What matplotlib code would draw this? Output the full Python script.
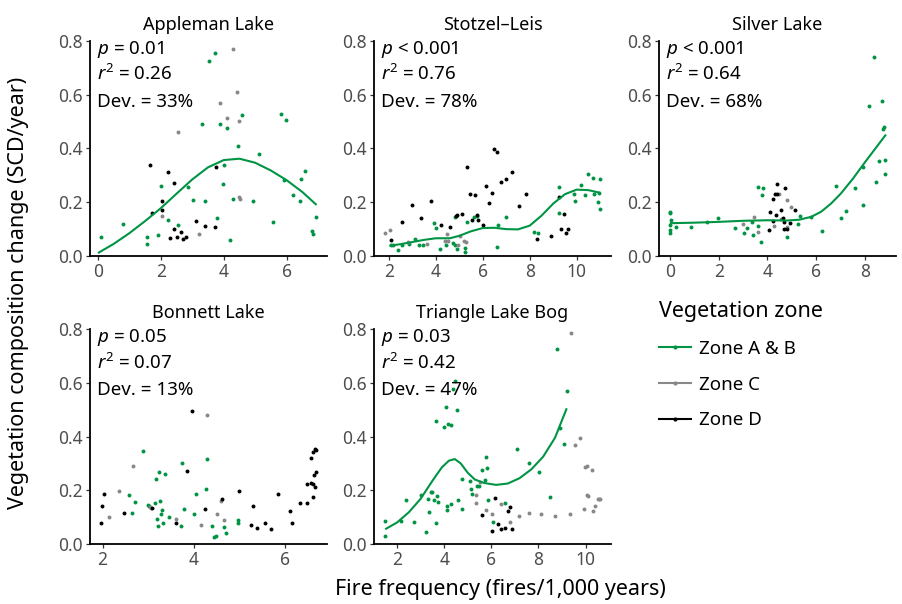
import numpy as np
import matplotlib.pyplot as plt
from matplotlib.lines import Line2D

plt.rcParams['font.family'] = ['Noto Sans', 'DejaVu Sans']
plt.rcParams['mathtext.fontset'] = 'custom'
plt.rcParams['mathtext.rm'] = 'Noto Sans'
plt.rcParams['mathtext.it'] = 'Noto Sans:italic'

GREEN = '#009444'
GREY = '#888888'
BLACK = '#000000'

# ---- Appleman Lake ----
apple_ab_x = [0.09, 0.81, 1.56, 1.57, 1.90, 2.0, 2.24, 2.55, 2.86, 3.02, 3.31, 3.40, 3.54, 3.73, 3.80, 3.87, 3.98,
              4.02, 4.11, 4.19, 4.28, 4.46, 4.58, 4.92, 5.13, 5.55, 5.82, 5.91, 5.97, 6.19, 6.41, 6.47, 6.57, 6.80,
              6.83, 6.94]
apple_ab_y = [0.072, 0.118, 0.046, 0.071, 0.079, 0.262, 0.133, 0.114, 0.257, 0.207, 0.491, 0.206, 0.725, 0.757,
              0.143, 0.491, 0.268, 0.337, 0.475, 0.058, 0.213, 0.408, 0.526, 0.205, 0.381, 0.128, 0.530, 0.284,
              0.505, 0.227, 0.205, 0.287, 0.316, 0.093, 0.083, 0.145]
apple_c_x = [2.55, 2.04, 3.20, 3.89, 4.09, 4.29, 4.41, 4.49, 4.49, 4.52]
apple_c_y = [0.461, 0.149, 0.083, 0.568, 0.514, 0.769, 0.612, 0.502, 0.220, 0.212]
apple_d_x = [1.66, 1.72, 2.05, 2.03, 2.22, 2.43, 2.42, 2.29, 2.51, 2.63, 2.69, 2.80, 3.12, 3.39, 3.72, 3.76]
apple_d_y = [0.339, 0.160, 0.205, 0.171, 0.314, 0.272, 0.100, 0.066, 0.069, 0.089, 0.065, 0.069, 0.130, 0.112,
             0.109, 0.331]
apple_fit_x = [0, 0.5, 1, 1.5, 2, 2.5, 3, 3.5, 4, 4.5, 5, 5.5, 6, 6.5, 6.95]
apple_fit_y = [0.011, 0.045, 0.085, 0.13, 0.178, 0.232, 0.285, 0.330, 0.357, 0.362, 0.347, 0.318, 0.282, 0.238, 0.19]

# ---- Stotzel-Leis ----
stotz_ab_x = [2.10, 2.20, 2.40, 2.57, 2.86, 3.11, 3.29, 3.46, 3.94, 4.0, 4.17, 4.43, 4.80, 4.74, 4.84, 4.90, 5.23,
              5.23, 5.31, 5.63, 5.77, 6.64, 6.60, 6.97, 8.19, 8.36, 9.26, 9.26, 9.89, 9.91, 10.17, 10.37, 10.50,
              10.71, 10.74, 10.90, 10.94, 11.0, 11.0]
stotz_ab_y = [0.042, 0.040, 0.021, 0.042, 0.046, 0.065, 0.042, 0.042, 0.124, 0.103, 0.025, 0.040, 0.144, 0.050,
              0.040, 0.026, 0.029, 0.014, 0.125, 0.145, 0.148, 0.117, 0.032, 0.146, 0.091, 0.087, 0.256, 0.161,
              0.230, 0.205, 0.264, 0.228, 0.305, 0.290, 0.232, 0.201, 0.234, 0.288, 0.174]
stotz_c_x = [1.83, 2.06, 2.81, 3.64, 4.46, 4.39, 4.50, 4.96, 5.03, 5.21, 5.29]
stotz_c_y = [0.086, 0.096, 0.053, 0.046, 0.081, 0.055, 0.056, 0.040, 0.076, 0.055, 0.052]
stotz_d_x = [2.11, 2.57, 3.0, 3.39, 3.79, 4.21, 4.6, 4.86, 4.91, 5.13, 5.31, 5.46, 5.56, 5.66, 5.74, 5.81, 5.99,
             6.13, 6.27, 6.39, 6.46, 6.60, 6.79, 7.0, 7.26, 7.56, 7.86, 8.33, 8.90, 9.24, 9.31, 9.46, 9.56, 9.61]
stotz_d_y = [0.058, 0.128, 0.191, 0.143, 0.205, 0.117, 0.107, 0.149, 0.154, 0.158, 0.333, 0.231, 0.133, 0.227,
             0.153, 0.135, 0.114, 0.261, 0.196, 0.233, 0.398, 0.388, 0.277, 0.288, 0.311, 0.187, 0.230, 0.062,
             0.073, 0.220, 0.100, 0.155, 0.087, 0.102]
stotz_fit_x = [2.03, 2.5, 3, 3.5, 4, 4.6, 5, 5.5, 6, 6.5, 7, 7.5, 8, 8.5, 9, 9.5, 10, 10.5, 11]
stotz_fit_y = [0.038, 0.044, 0.052, 0.060, 0.066, 0.066, 0.075, 0.092, 0.104, 0.105, 0.100, 0.099, 0.113, 0.150,
               0.195, 0.230, 0.247, 0.245, 0.235]

# ---- Silver Lake ----
silver_ab_x = [0, 0, 0.04, 0, 0, 0, 0.25, 0.87, 1.51, 1.98, 2.68, 3.05, 3.18, 3.37, 3.41, 3.60, 3.62, 3.82, 3.79,
               3.74, 4.81, 5.24, 5.33, 5.77, 6.24, 6.80, 7.01, 7.23, 7.60, 7.89, 7.89, 8.15, 8.37, 8.43, 8.56, 8.69,
               8.73, 8.78, 8.80, 8.82]
silver_ab_y = [0.165, 0.160, 0.135, 0.114, 0.096, 0.086, 0.108, 0.108, 0.127, 0.140, 0.104, 0.084, 0.105, 0.125,
               0.079, 0.112, 0.257, 0.254, 0.226, 0.052, 0.072, 0.120, 0.150, 0.145, 0.092, 0.259, 0.140, 0.166,
               0.254, 0.191, 0.331, 0.558, 0.739, 0.274, 0.355, 0.578, 0.474, 0.481, 0.356, 0.306]
silver_c_x = [2.98, 3.44, 3.63, 4.26, 4.47, 4.54, 4.78, 4.81, 4.95]
silver_c_y = [0.120, 0.145, 0.089, 0.112, 0.232, 0.136, 0.208, 0.108, 0.182]
silver_d_x = [4.07, 4.12, 4.22, 4.23, 4.30, 4.33, 4.37, 4.40, 4.54, 4.62, 4.66, 4.67, 4.70, 4.81, 4.92, 5.14]
silver_d_y = [0.096, 0.163, 0.211, 0.130, 0.230, 0.153, 0.268, 0.230, 0.172, 0.143, 0.127, 0.102, 0.252, 0.102,
              0.123, 0.170]
silver_fit_x = [0, 1, 2, 3, 4, 4.8, 5.3, 5.8, 6.2, 6.6, 7.0, 7.5, 8.0, 8.5, 8.85]
silver_fit_y = [0.122, 0.124, 0.127, 0.131, 0.133, 0.132, 0.135, 0.146, 0.165, 0.195, 0.232, 0.288, 0.35, 0.41,
                0.452]

# ---- Bonnett Lake ----
bonn_ab_x = [2.58, 2.65, 2.72, 2.88, 2.99, 3.02, 3.15, 3.18, 3.19, 3.21, 3.24, 3.26, 3.28, 3.31, 3.33, 3.37, 3.46,
             3.71, 3.74, 3.79, 4.0, 4.05, 4.26, 4.29, 4.39, 4.45, 4.48, 4.66, 4.71, 4.96, 4.96]
bonn_ab_y = [0.182, 0.114, 0.158, 0.347, 0.145, 0.141, 0.154, 0.241, 0.092, 0.068, 0.269, 0.161, 0.112, 0.127,
             0.077, 0.261, 0.099, 0.067, 0.300, 0.130, 0.113, 0.186, 0.206, 0.315, 0.067, 0.026, 0.030, 0.062,
             0.042, 0.088, 0.079]
bonn_c_x = [2.13, 2.35, 2.66, 3.03, 3.07, 3.61, 4.16, 4.29, 4.51, 4.59, 4.66]
bonn_c_y = [0.102, 0.197, 0.292, 0.136, 0.134, 0.094, 0.071, 0.480, 0.112, 0.160, 0.089]
bonn_d_x = [1.96, 1.99, 2.02, 2.46, 3.08, 3.60, 3.85, 3.96, 4.24, 4.61, 4.98, 5.25, 5.29, 5.39, 5.56, 5.70, 5.84,
            6.11, 6.16, 6.32, 6.48, 6.47, 6.56, 6.57, 6.60, 6.62, 6.62, 6.63, 6.65, 6.66, 6.68, 6.68]
bonn_d_y = [0.077, 0.143, 0.186, 0.114, 0.134, 0.079, 0.272, 0.495, 0.132, 0.166, 0.197, 0.071, 0.143, 0.061,
            0.077, 0.055, 0.186, 0.124, 0.077, 0.151, 0.151, 0.225, 0.321, 0.226, 0.341, 0.176, 0.222, 0.257,
            0.213, 0.352, 0.350, 0.269]

# ---- Triangle Lake Bog ----
tri_ab_x = [1.48, 1.49, 2.16, 2.40, 2.70, 3.02, 3.21, 3.32, 3.35, 3.42, 3.49, 3.57, 3.66, 3.66, 3.70, 3.74, 3.98,
            4.07, 4.10, 4.10, 4.18, 4.27, 4.28, 4.37, 4.47, 4.55, 4.58, 4.75, 4.77, 5.09, 5.12, 5.17, 5.39, 5.49,
            5.60, 5.72, 5.76, 5.82, 5.84, 6.07, 6.60, 7.08, 7.59, 8.03, 8.50, 8.79, 8.92, 9.09, 9.19]
tri_ab_y = [0.087, 0.030, 0.087, 0.162, 0.081, 0.181, 0.044, 0.169, 0.120, 0.193, 0.193, 0.164, 0.456, 0.077,
            0.178, 0.156, 0.437, 0.508, 0.142, 0.127, 0.445, 0.441, 0.149, 0.576, 0.608, 0.498, 0.162, 0.130,
            0.243, 0.236, 0.206, 0.186, 0.214, 0.216, 0.274, 0.237, 0.323, 0.282, 0.164, 0.083, 0.152, 0.354,
            0.300, 0.267, 0.176, 0.725, 0.430, 0.371, 0.571]
tri_c_x = [5.35, 5.35, 5.50, 5.76, 6.03, 6.40, 6.78, 7.16, 7.59, 8.11, 8.70, 9.35, 9.39, 9.56, 9.77, 9.94, 9.96,
           10.06, 10.04, 10.11, 10.26, 10.30, 10.41, 10.51, 10.57, 10.62]
tri_c_y = [0.184, 0.152, 0.229, 0.125, 0.112, 0.150, 0.081, 0.103, 0.116, 0.112, 0.105, 0.113, 0.785, 0.370,
           0.393, 0.131, 0.285, 0.290, 0.182, 0.177, 0.274, 0.121, 0.140, 0.167, 0.168, 0.166]
tri_d_x = [5.60, 6.01, 6.17, 6.30, 6.43, 6.60, 6.70, 6.79, 6.88]
tri_d_y = [0.107, 0.047, 0.171, 0.074, 0.054, 0.060, 0.122, 0.137, 0.055]
tri_fit_x = [1.5, 2.0, 2.5, 3.0, 3.5, 3.9, 4.2, 4.45, 4.7, 5.0, 5.3, 5.7, 6.2, 6.7, 7.2, 7.7, 8.2, 8.7, 9.2]
tri_fit_y = [0.055, 0.080, 0.118, 0.168, 0.235, 0.285, 0.310, 0.316, 0.300, 0.265, 0.240, 0.227, 0.220, 0.225,
             0.245, 0.278, 0.325, 0.395, 0.505]

panels = [
    ("Appleman Lake", [0, 2, 4, 6], (apple_ab_x, apple_ab_y), (apple_c_x, apple_c_y), (apple_d_x, apple_d_y),
     (apple_fit_x, apple_fit_y), ["$p$ = 0.01", "$r^2$ = 0.26", "Dev. = 33%"]),
    ("Stotzel\u2013Leis", [2, 4, 6, 8, 10], (stotz_ab_x, stotz_ab_y), (stotz_c_x, stotz_c_y), (stotz_d_x, stotz_d_y),
     (stotz_fit_x, stotz_fit_y), ["$p$ < 0.001", "$r^2$ = 0.76", "Dev. = 78%"]),
    ("Silver Lake", [0, 2, 4, 6, 8], (silver_ab_x, silver_ab_y), (silver_c_x, silver_c_y), (silver_d_x, silver_d_y),
     (silver_fit_x, silver_fit_y), ["$p$ < 0.001", "$r^2$ = 0.64", "Dev. = 68%"]),
    ("Bonnett Lake", [2, 4, 6], (bonn_ab_x, bonn_ab_y), (bonn_c_x, bonn_c_y), (bonn_d_x, bonn_d_y),
     None, ["$p$ = 0.05", "$r^2$ = 0.07", "Dev. = 13%"]),
    ("Triangle Lake Bog", [2, 4, 6, 8, 10], (tri_ab_x, tri_ab_y), (tri_c_x, tri_c_y), (tri_d_x, tri_d_y),
     (tri_fit_x, tri_fit_y), ["$p$ = 0.03", "$r^2$ = 0.42", "Dev. = 47%"]),
]

W, H = 902, 604
fig = plt.figure(figsize=(W / 100, H / 100), dpi=100)

lefts = [90, 374, 659]
width = 237
tops = [41, 329]
height = 215
positions = [(lefts[0], tops[0]), (lefts[1], tops[0]), (lefts[2], tops[0]), (lefts[0], tops[1]), (lefts[1], tops[1])]

for (title, xt, ab, c, d, fit, ann), (lx, ty) in zip(panels, positions):
    ax = fig.add_axes([lx / W, 1 - (ty + height) / H, width / W, height / H])
    for (xs, ys), col in [(ab, GREEN), (c, GREY), (d, BLACK)]:
        ax.scatter(xs, ys, s=8, color=col, linewidths=0, zorder=2)
    if fit is not None:
        ax.plot(fit[0], fit[1], color=GREEN, lw=1.5, zorder=3, solid_capstyle='butt')
    allx = list(ab[0]) + list(c[0]) + list(d[0])
    lo, hi = min(allx), max(allx)
    pad = (hi - lo) * 0.05
    ax.set_xlim(lo - pad, hi + pad)
    ax.set_ylim(0, 0.8)
    ax.set_xticks(xt)
    ax.set_yticks([0, 0.2, 0.4, 0.6, 0.8])
    ax.set_yticklabels(['0.0', '0.2', '0.4', '0.6', '0.8'])
    for s in ['top', 'right']:
        ax.spines[s].set_visible(False)
    for s in ['left', 'bottom']:
        ax.spines[s].set_linewidth(1.3)
    ax.tick_params(length=3, width=0.9, color='#333333', labelcolor='#4D4D4D', labelsize=12.5, pad=2)
    ax.set_title(title, fontsize=13, pad=8)
    for i, t in enumerate(ann):
        ax.text(7 / width, 1 - (13 + 26.5 * i) / height, t, transform=ax.transAxes, fontsize=13.5,
                va='baseline', ha='left')

fig.text(19 / W, 1 - 293 / H, "Vegetation composition change (SCD/year)", rotation=90, fontsize=15.5,
         ha='center', va='center')
fig.text(500 / W, 1 - 590 / H, "Fire frequency (fires/1,000 years)", fontsize=15.5, ha='center', va='center')

handles = [Line2D([], [], color=GREEN, lw=1.5, marker='o', markersize=2),
           Line2D([], [], color=GREY, lw=1.5, marker='o', markersize=2),
           Line2D([], [], color=BLACK, lw=1.5, marker='o', markersize=2)]
fig.legend(handles, ["Zone A & B", "Zone C", "Zone D"], title="Vegetation zone", loc='upper left',
           bbox_to_anchor=(642 / W, 1 - 284 / H), frameon=False, fontsize=13.5, title_fontsize=15.5,
           alignment='left', handlelength=1.7, labelspacing=0.95, handletextpad=0.45)

fig.savefig("out.png", dpi=100)
